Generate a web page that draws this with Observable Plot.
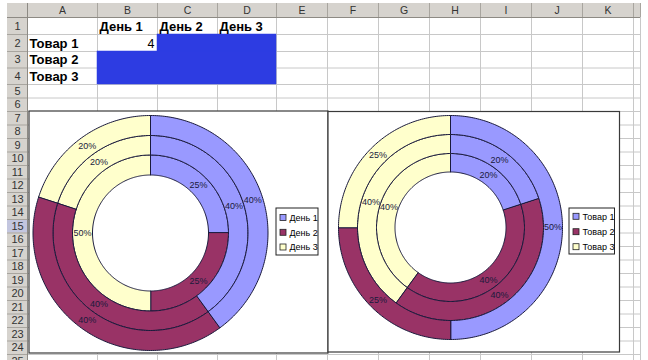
<!DOCTYPE html>
<html>
<head>
<meta charset="utf-8">
<script src="https://cdn.jsdelivr.net/npm/d3@7"></script>
<script src="https://cdn.jsdelivr.net/npm/@observablehq/plot@0.6"></script>
<style>
  body { margin: 0; background: #fff; }
</style>
</head>
<body>
<div id="chart"></div>
<script>
// ---- data ----
const days = ["День 1", "День 2", "День 3"];
const goods = ["Товар 1", "Товар 2", "Товар 3"];
// sales[g][d]: sales of good g on day d
const sales = [
  [4, 4, 8],
  [8, 8, 4],
  [8, 8, 4]
];
const columnLetters = ["A", "B", "C", "D", "E", "F", "G", "H", "I", "J", "K"];
const rowNumbers = [1, 2, 3, 4, 5, 6, 7, 8, 9, 10, 11, 12, 13, 14, 15, 16, 17, 18, 19, 20, 21, 22, 23, 24, 25];
const seriesColors = ["#9999ff", "#993366", "#ffffcc"];

// ---- sheet geometry ----
const W = 648, H = 360;
const FONT = "Arial, 'Liberation Sans', sans-serif";
const headerTop = 3, headerBottom = 17, rowHeadLeft = 7, rowHeadRight = 27, sheetRight = 640;
const colEdges = [27, 97, 157, 217, 276, 327, 378, 429, 480, 531, 582, 633];
const rowEdges = [17, 34, 51, 67.5, 84];
while (rowEdges.length < rowNumbers.length + 1) rowEdges.push(rowEdges[rowEdges.length - 1] + 13.5);
const colIndex = l => columnLetters.indexOf(l);
const cell = (l, r) => ({x1: colEdges[colIndex(l)], x2: colEdges[colIndex(l) + 1], y1: rowEdges[r - 1], y2: rowEdges[r]});
const activeRow = 15;

const colHeads = columnLetters.map((l, i) => ({label: l, x1: colEdges[i], x2: colEdges[i + 1]}));
colHeads.push({label: "", x1: colEdges[colEdges.length - 1], x2: sheetRight});
const rowHeads = rowNumbers.map((n, i) => ({label: String(n), y1: rowEdges[i], y2: rowEdges[i + 1], active: n === activeRow}));

// selected block C2:D2 + B3:D4 (B2 is the active cell)
const selection = [
  {x1: cell("C", 2).x1, x2: cell("D", 2).x2, y1: cell("C", 2).y1, y2: cell("C", 2).y2},
  {x1: cell("B", 3).x1, x2: cell("D", 4).x2, y1: cell("B", 3).y1, y2: cell("D", 4).y2}
];

const headingTexts = [
  ...days.map((d, i) => ({...cell(columnLetters[i + 1], 1), text: d})),
  ...goods.map((g, i) => ({...cell("A", i + 2), text: g}))
];
const valueTexts = [{...cell("B", 2), text: String(sales[0][0])}];

// ---- doughnuts ----
const charts = [
  {name: "byDay", frame: {x1: 29, x2: 328, y1: 111, y2: 353}, cx: 150, cy: 232.5,
   radii: [58, 78, 97.5, 117.5], matrix: sales, categories: days,
   legend: {x1: 276, x2: 318, y1: 208, y2: 255, rows: [217.5, 232.3, 247]}},
  {name: "byGood", frame: {x1: 328, x2: 619.5, y1: 111.5, y2: 352}, cx: 450, cy: 227,
   radii: [55.5, 74, 93, 112], matrix: days.map((_, d) => goods.map((_, g) => sales[g][d])), categories: goods,
   legend: {x1: 569, x2: 614.5, y1: 208, y2: 254, rows: [216.3, 231.7, 246.7]}}
];

const pieces = [], pctLabels = [], legendItems = [];
const step = Math.PI / 180;
for (const c of charts) {
  c.matrix.forEach((vals, si) => {
    const total = d3.sum(vals);
    const r0 = c.radii[si], r1 = c.radii[si + 1], rm = (r0 + r1) / 2;
    let acc = 0;
    vals.forEach((v, ci) => {
      const a0 = acc / total * 2 * Math.PI;
      acc += v;
      const a1 = acc / total * 2 * Math.PI;
      const id = `${c.name}-${si}-${ci}`;
      const n = Math.max(2, Math.ceil((a1 - a0) / step));
      for (let i = 0; i <= n; ++i) {
        const a = a0 + (a1 - a0) * i / n;
        pieces.push({id, fill: seriesColors[ci], x: c.cx + r1 * Math.sin(a), y: c.cy - r1 * Math.cos(a)});
      }
      for (let i = n; i >= 0; --i) {
        const a = a0 + (a1 - a0) * i / n;
        pieces.push({id, fill: seriesColors[ci], x: c.cx + r0 * Math.sin(a), y: c.cy - r0 * Math.cos(a)});
      }
      const am = (a0 + a1) / 2;
      pctLabels.push({x: c.cx + rm * Math.sin(am), y: c.cy - rm * Math.cos(am), text: Math.round(v / total * 100) + "%"});
    });
  });
  c.categories.forEach((name, i) => {
    legendItems.push({name, fill: seriesColors[i], x: c.legend.x1 + 4, y: c.legend.rows[i]});
  });
}
const frames = charts.map(c => c.frame);
const legendBoxes = charts.map(c => c.legend);

const plot = Plot.plot({
  width: W,
  height: H,
  margin: 0,
  x: {domain: [0, W], range: [0, W], axis: null},
  y: {domain: [0, H], range: [0, H], axis: null},
  color: {type: "identity"},
  style: {fontFamily: FONT, background: "#fff"},
  marks: [
    // header bands
    Plot.rect([{x1: rowHeadLeft, x2: sheetRight, y1: headerTop, y2: headerBottom}], {x1: "x1", x2: "x2", y1: "y1", y2: "y2", fill: "#d6d3ce"}),
    Plot.rect([{x1: rowHeadLeft, x2: rowHeadRight, y1: headerTop, y2: H}], {x1: "x1", x2: "x2", y1: "y1", y2: "y2", fill: "#d6d3ce"}),
    Plot.rect(rowHeads.filter(d => d.active), {x1: rowHeadLeft, x2: rowHeadRight, y1: "y1", y2: "y2", fill: "#c3c6df"}),
    // grid lines
    Plot.ruleX(colEdges.slice(1).concat([sheetRight]), {x: d => d, y1: headerBottom, y2: H, stroke: "#c8c8c8", strokeWidth: 1}),
    Plot.ruleY(rowEdges.slice(1), {y: d => d, x1: rowHeadRight, x2: sheetRight, stroke: "#c8c8c8", strokeWidth: 1}),
    // selection
    Plot.rect(selection, {x1: "x1", x2: "x2", y1: "y1", y2: "y2", fill: "#2d3ce2", stroke: "#2d3ce2", strokeWidth: 0.5}),
    // header separators
    Plot.ruleX(colHeads, {x: "x2", y1: headerTop, y2: headerBottom, stroke: "#a8a59f"}),
    Plot.ruleY(rowHeads, {y: "y2", x1: rowHeadLeft, x2: rowHeadRight, stroke: "#a8a59f"}),
    Plot.ruleY([headerBottom], {x1: rowHeadLeft, x2: sheetRight, stroke: "#8d8a84"}),
    Plot.ruleX([rowHeadRight], {y1: headerTop, y2: H, stroke: "#8d8a84"}),
    // header labels
    Plot.text(colHeads, {x: d => (d.x1 + d.x2) / 2, y: (headerTop + headerBottom) / 2 + 0.5, text: "label", fontSize: 10.5, fill: "#333"}),
    Plot.text(rowHeads, {x: (rowHeadLeft + rowHeadRight) / 2, y: d => (d.y1 + d.y2) / 2, text: "label", fontSize: 11, fill: "#333"}),
    // cell contents
    Plot.text(headingTexts, {x: d => d.x1 + 2, y: d => (d.y1 + d.y2) / 2 + 0.5, text: "text",
      textAnchor: "start", fontWeight: "bold", fontSize: 13, fill: "#000"}),
    Plot.text(valueTexts, {x: d => d.x2 - 3, y: d => (d.y1 + d.y2) / 2 + 0.5, text: "text",
      textAnchor: "end", fontSize: 12.5, fill: "#000"}),
    // chart areas
    Plot.rect(frames, {x1: "x1", x2: "x2", y1: "y1", y2: "y2", fill: "#fff", stroke: "#3a3a3a", strokeWidth: 1.2}),
    // rings
    Plot.line(pieces, {x: "x", y: "y", z: "id", fill: "fill", stroke: "#1a1a3c", strokeWidth: 1, curve: "linear-closed"}),
    Plot.text(pctLabels, {x: "x", y: "y", text: "text", fontSize: 9, fill: "#1a1a3c"}),
    // legends
    Plot.rect(legendBoxes, {x1: "x1", x2: "x2", y1: "y1", y2: "y2", fill: "#fff", stroke: "#222", strokeWidth: 1}),
    Plot.rect(legendItems, {x1: "x", x2: d => d.x + 6, y1: d => d.y - 3, y2: d => d.y + 3, fill: "fill", stroke: "#222", strokeWidth: 0.8}),
    Plot.text(legendItems, {x: d => d.x + 9, y: "y", text: "name", textAnchor: "start", fontSize: 9, fill: "#000"})
  ]
});
document.getElementById("chart").append(plot);
</script>
</body>
</html>
